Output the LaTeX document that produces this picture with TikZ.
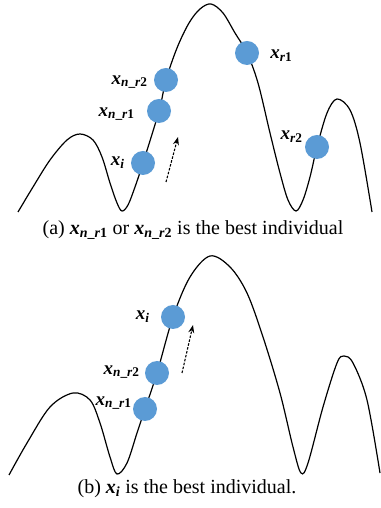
\documentclass[tikz,border=0pt]{standalone}
\usepackage{fontspec}
\setmainfont{Liberation Serif}
\usetikzlibrary{positioning,arrows.meta,backgrounds}
\definecolor{ptblue}{HTML}{5B9BD5}
\newcommand{\xsub}[1]{\textbf{\textit{x}\textsubscript{#1}}}
\newcommand{\nr}[1]{\textit{n}\_\textit{r}#1}
\begin{document}
\begin{tikzpicture}[x=1pt,y=1pt,
  dot/.style={circle,fill=ptblue,minimum size=24pt,inner sep=0pt},
  lbl/.style={font=\fontsize{19}{19}\selectfont,inner sep=0pt},
  captext/.style={font=\fontsize{20}{20}\selectfont,inner sep=0pt},
  land/.style={line width=1.2pt},
  climb/.style={line width=1.1pt,dash pattern=on 2.5pt off 1.5pt,-{Stealth[length=8pt,width=6pt]}}]
\useasboundingbox (0,0) rectangle (380,508);
% (a) one of the neighbours is the best
\node[dot] (ai) at (143,345) {};
\node[dot] (anr1) at (159,397) {};
\node[dot] (anr2) at (166,428) {};
\node[dot] (ar1) at (247,455) {};
\node[dot] (ar2) at (317,361) {};
\begin{scope}[on background layer]
\draw[land] plot[smooth,tension=0.55] coordinates {(18,296) (33,321) (50,348) (67,368) (80,374)
  (93,368) (102,351) (110,325) (117,305) (122,297) (128,303) (135,321) (ai.center)
  (anr1.center) (anr2.center) (177,460) (189,485) (200,499) (211,504) (223,495) (235,475) (ar1.center)
  (258,425) (270,375) (280,335) (288,308) (296,297) (303,308) (310,331) (ar2.center)
  (327,395) (337,409) (350,398) (360,365) (372,296)};
\end{scope}
\node[lbl,left=6pt of ai] (lai) {\xsub{\textit{i}}};
\node[lbl,left=12pt of anr1,yshift=-3pt] (lanr1) {\xsub{\nr{1}}};
\node[lbl,left=6pt of anr2,yshift=-2pt] (lanr2) {\xsub{\nr{2}}};
\node[lbl,right=11pt of ar1,yshift=-3pt] (lar1) {\xsub{\textit{r}1}};
\node[lbl,left=2pt of ar2,yshift=10pt] (lar2) {\xsub{\textit{r}2}};
\coordinate (sa) at (166,326);
\coordinate (ea) at (178,371);
\draw[climb] (sa) -- (ea);
\node[captext] (capa) at (193,278) {(a) \xsub{\nr{1}} or \xsub{\nr{2}} is the best individual};
% (b) x_i itself is the best
\node[dot] (bnr1) at (145,99) {};
\node[dot] (bnr2) at (157,135) {};
\node[dot] (bi) at (173,191) {};
\begin{scope}[on background layer]
\draw[land] plot[smooth,tension=0.55] coordinates {(9,33) (27,65) (50,101) (73,115) (90,108)
  (100,85) (110,51) (117,34) (127,45) (137,75) (bnr1.center) (bnr2.center) (bi.center)
  (190,231) (210,252) (230,241) (247,215) (263,171) (280,115) (293,61) (301,35) (308,45)
  (323,101) (337,145) (344,152) (353,145) (367,108) (380,35)};
\end{scope}
\node[lbl,left=11pt of bi] (lbi) {\xsub{\textit{i}}};
\node[lbl,left=5pt of bnr2,yshift=1pt] (lbnr2) {\xsub{\nr{2}}};
\node[lbl,left=1pt of bnr1,yshift=6pt] (lbnr1) {\xsub{\nr{1}}};
\coordinate (sb) at (182,135);
\coordinate (eb) at (193,183);
\draw[climb] (sb) -- (eb);
\node[captext] (capb) at (187,19) {(b) \xsub{\textit{i}} is the best individual.};
\end{tikzpicture}
\end{document}
